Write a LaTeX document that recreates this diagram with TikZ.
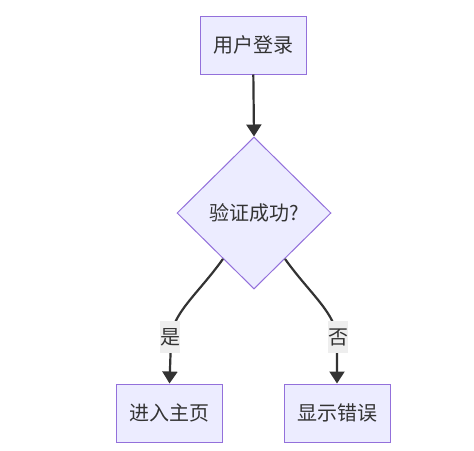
\documentclass[tikz,border=0pt]{standalone}
\usepackage{fontspec}
\setmainfont{Noto Sans CJK SC}
\usetikzlibrary{shapes.geometric,arrows.meta,calc}
\definecolor{nodefill}{HTML}{ECECFF}
\definecolor{nodeline}{HTML}{9370DB}
\definecolor{edgecol}{HTML}{333333}
\definecolor{lblbg}{HTML}{EEEEEE}
\tikzset{
  boxnode/.style={draw=nodeline, fill=nodefill, line width=1pt, minimum width=106pt, minimum height=58pt, inner sep=0pt, font=\fontsize{20}{24}\selectfont, text=edgecol},
  decision/.style={diamond, aspect=1, draw=nodeline, fill=nodefill, line width=1pt, minimum width=154pt, minimum height=152pt, inner sep=0pt, font=\fontsize{20}{24}\selectfont, text=edgecol},
  flow/.style={draw=edgecol, line width=2.2pt, -{Triangle[length=12pt,width=15pt]}},
  edgelabel/.style={fill=lblbg, inner sep=0pt, minimum width=20pt, minimum height=32pt, font=\fontsize{20}{24}\selectfont, text=edgecol}
}
\begin{document}
\begin{tikzpicture}[x=1pt,y=-1pt]
\useasboundingbox (0,0) rectangle (474,450);
\node[boxnode] (login) at (253,45) {用户登录};
\node[decision] (check) at (254,213) {验证成功?};
\node[boxnode] (home) at (169.5,413) {进入主页};
\node[boxnode] (err) at (337,413) {显示错误};
\draw[flow] (login) -- (check.north);
\coordinate (ls) at ($(check.west)!0.6!(check.south)$);
\coordinate (rs) at ($(check.east)!0.6!(check.south)$);
\draw[flow] (ls) .. controls (198,294) and (171,314) .. (171,340) -- (home.north);
\draw[flow] (rs) .. controls (310,294) and (337,314) .. (337,340) -- (err.north);
\node[edgelabel] (yes) at (170,337) {是};
\node[edgelabel] (no) at (338,337) {否};
\end{tikzpicture}
\end{document}
